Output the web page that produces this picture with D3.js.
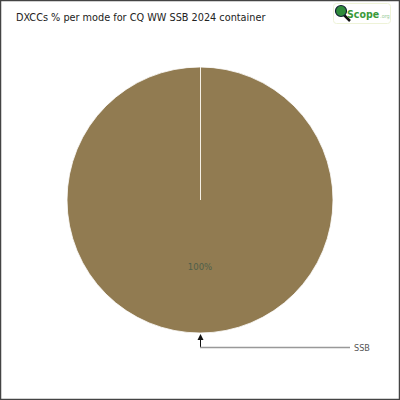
<!DOCTYPE html>
<html><head><meta charset="utf-8">
<script src="https://cdn.jsdelivr.net/npm/d3@7"></script>
<style>body{margin:0;background:#fff}svg{display:block}</style>
</head><body>
<script>
const categories = ["SSB"];
const values = [100];
const title = "DXCCs % per mode for CQ WW SSB 2024 container";

const W = 400, H = 400;
const svg = d3.select("body").append("svg").attr("width", W).attr("height", H);
svg.append("rect").attr("x",0.5).attr("y",0.5).attr("width",W-1).attr("height",H-1)
  .attr("fill","#fff").attr("stroke","#444").attr("stroke-width",1.5);

svg.append("text").attr("x",16).attr("y",21).text(title)
  .attr("font-family","DejaVu Sans Condensed, DejaVu Sans").attr("font-size",10.8).attr("fill","#222");

// logo
const lg = svg.append("g");
lg.append("rect").attr("x",333.5).attr("y",3.5).attr("width",57).attr("height",20).attr("rx",3)
  .attr("fill","#fff").attr("stroke","#eef3d8");
lg.append("line").attr("x1",343).attr("y1",14).attr("x2",350).attr("y2",21).attr("stroke","#111").attr("stroke-width",2.5);
lg.append("circle").attr("cx",341).attr("cy",11).attr("r",5.5).attr("fill","#2e8b3a").attr("stroke","#123").attr("stroke-width",1.2);
const lt = lg.append("text").attr("x",347).attr("y",18).attr("font-family","DejaVu Sans Condensed, DejaVu Sans");
lt.append("tspan").text("Scope").attr("font-weight","bold").attr("font-size",10.5).attr("fill","#3a9a3a");
lt.append("tspan").text(".org").attr("dx",1).attr("font-size",5.5).attr("fill","#9c9");

const cx = 200, cy = 200, R = 133;
const color = d3.scaleOrdinal().domain(categories).range(["#917b51"]);
const pie = d3.pie().sort(null)(values);
const arc = d3.arc().innerRadius(0).outerRadius(R);
const g = svg.append("g").attr("transform",`translate(${cx},${cy})`);
g.selectAll("path").data(pie).join("path").attr("d",arc)
  .attr("fill",(d,i)=>color(categories[i])).attr("stroke","#fff").attr("stroke-width",0.8);
// slice boundary line
g.append("line").attr("x1",0.5).attr("y1",0).attr("x2",0.5).attr("y2",-R).attr("stroke","#f4efe4").attr("stroke-width",1);

const total = d3.sum(values);
g.selectAll("text.pct").data(pie).join("text").attr("class","pct")
  .attr("x",0).attr("y",R*0.5+3)
  .attr("text-anchor","middle").attr("font-family","DejaVu Sans Condensed, DejaVu Sans").attr("font-size",9.5)
  .attr("fill","#4f5f4a").text((d)=>Math.round(d.value/total*100)+"%");

// leader
svg.append("line").attr("x1",cx+0.5).attr("y1",cy+R+6).attr("x2",cx+0.5).attr("y2",cy+R+14).attr("stroke","#111").attr("stroke-width",1);
svg.append("path").attr("d",`M${cx+0.5},${cy+R+1} L${cx-2.5},${cy+R+7} L${cx+3.5},${cy+R+7} Z`).attr("fill","#111");
svg.append("line").attr("x1",cx).attr("y1",cy+R+14.5).attr("x2",cx+150).attr("y2",cy+R+14.5).attr("stroke","#999").attr("stroke-width",1.5);
svg.append("text").attr("x",cx+154).attr("y",cy+R+18).text(categories[0])
  .attr("font-family","DejaVu Sans Condensed, DejaVu Sans").attr("font-size",9).attr("fill","#555");
</script>
</body></html>
